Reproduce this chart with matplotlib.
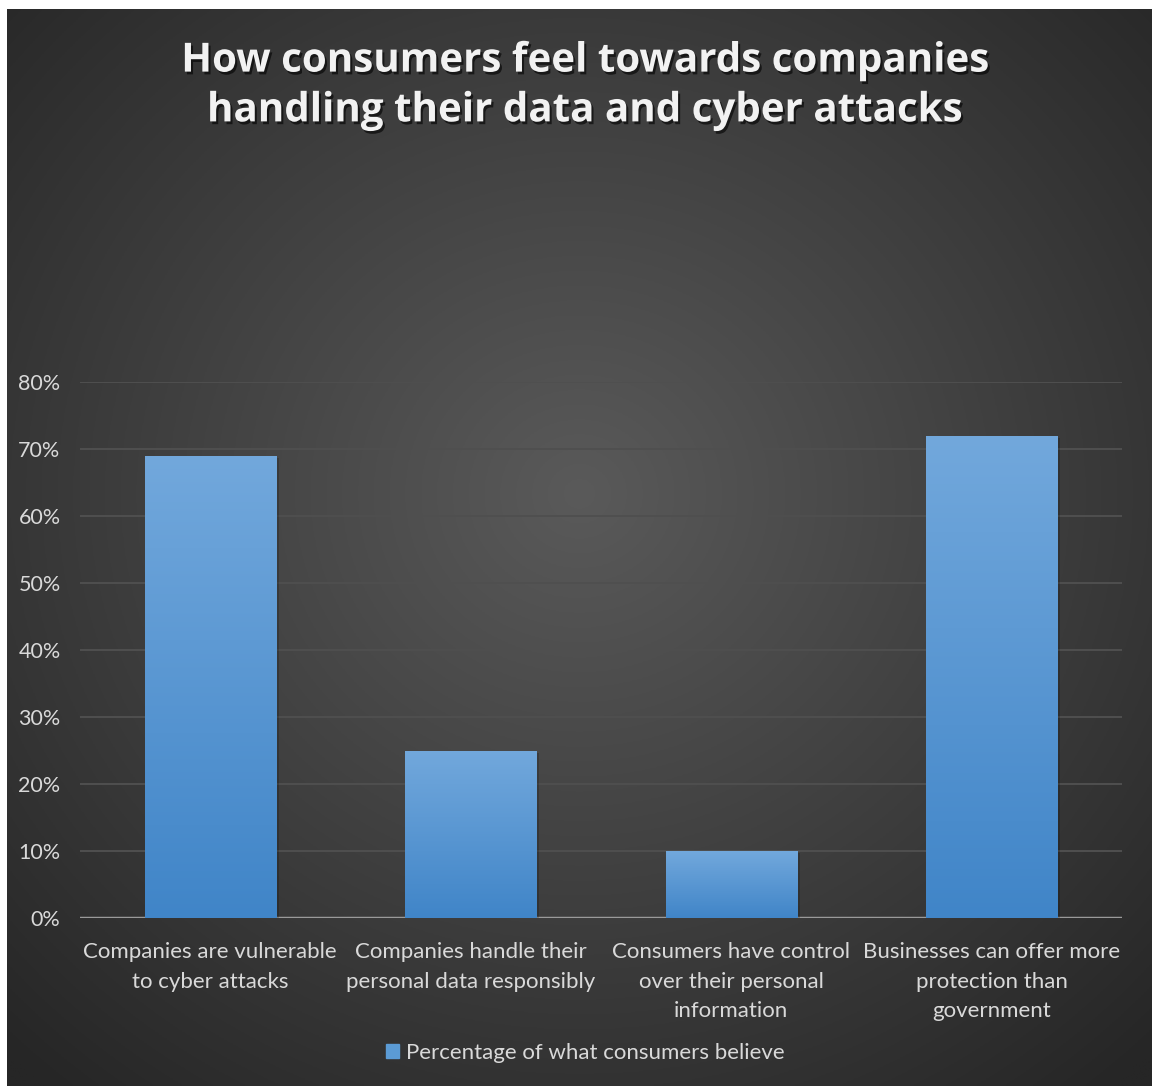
import numpy as np
import matplotlib
matplotlib.use('Agg')
import matplotlib.pyplot as plt
import matplotlib.patheffects as pe
from matplotlib.patches import Rectangle

categories = ['Companies are vulnerable\nto cyber attacks',
              'Companies handle their\npersonal data responsibly',
              'Consumers have control\nover their personal\ninformation',
              'Businesses can offer more\nprotection than\ngovernment']
values = [0.69, 0.25, 0.10, 0.72]
yticks = [0, 0.1, 0.2, 0.3, 0.4, 0.5, 0.6, 0.7, 0.8]
series_name = 'Percentage of what consumers believe'
title = 'How consumers feel towards companies\nhandling their data and cyber attacks'

W, H = 1152, 1086
fig = plt.figure(figsize=(W / 100, H / 100), dpi=100)
fig.patch.set_facecolor('white')

# dark radial background (leaves a thin white margin top/left)
bg = fig.add_axes([7 / W, 0, 1 - 7 / W, 1 - 9 / H])
bg.set_axis_off()
yy, xx = np.mgrid[0:1:400j, 0:1:400j]
r = np.sqrt((xx - 0.5) ** 2 + ((yy - 0.55) * 1.0) ** 2)
r = np.clip(r / 0.72, 0, 1)
c0 = np.array([0x5a, 0x5a, 0x5a]) / 255
c1 = np.array([0x26, 0x26, 0x26]) / 255
img = c0[None, None, :] * (1 - r[..., None]) + c1[None, None, :] * r[..., None]
bg.imshow(img, extent=[0, 1, 0, 1], aspect='auto', origin='lower')
bg.set_xlim(0, 1)
bg.set_ylim(0, 1)

font = 'Lato'
txtcol = '#d9d9d9'

ax = fig.add_axes([80 / W, 1 - 918 / H, (1122 - 80) / W, (918 - 382) / H])
ax.patch.set_alpha(0)
x = np.arange(len(values))
ax.set_xlim(-0.5, len(values) - 0.5)
ax.set_ylim(0, 0.8)
for s in ax.spines.values():
    s.set_visible(False)
ax.set_yticks(yticks)
ax.set_yticklabels(['%d%%' % round(v * 100) for v in yticks],
                   fontsize=15.5, color=txtcol, family=font)
ax.tick_params(axis='y', length=0, pad=14)
ax.set_xticks(x)
ax.set_xticklabels(categories, fontsize=16, color=txtcol, family=font,
                   linespacing=1.62)
ax.tick_params(axis='x', length=0, pad=17)
ax.grid(axis='y', color='#4f4f4f', linewidth=1.4, zorder=0)
ax.set_axisbelow(True)
ax.axhline(0, color='#9a9a9a', linewidth=2.5, zorder=1)

bars = ax.bar(x, values, width=0.503, color='#5b9bd5', zorder=2,
              label=series_name)
grad = np.linspace(0, 1, 256)[:, None]
top = np.array([0x72, 0xa8, 0xdc]) / 255
bot = np.array([0x40, 0x85, 0xc8]) / 255
gimg = bot[None, None, :] * (1 - grad[..., None]) + top[None, None, :] * grad[..., None]
for b in bars:
    bx, by, bw, bh = b.get_x(), b.get_y(), b.get_width(), b.get_height()
    sh = Rectangle((bx + 0.012, by), bw, bh - 0.003, color='black',
                   alpha=0.18, zorder=1.5, linewidth=0)
    ax.add_patch(sh)
    im = ax.imshow(gimg, extent=[bx, bx + bw, by, by + bh], aspect='auto',
                   origin='lower', zorder=2.5)
    im.set_clip_path(b)
ax.set_xlim(-0.5, len(values) - 0.5)
ax.set_ylim(0, 0.8)

leg = fig.legend(handles=[bars], labels=[series_name], loc='center',
                 bbox_to_anchor=(0.508, 1 - 1053 / H), frameon=False,
                 prop={'family': font, 'size': 16}, handlelength=0.6,
                 handleheight=0.6, handletextpad=0.3)
for t in leg.get_texts():
    t.set_color(txtcol)
leg.legend_handles[0].set_color('#5b9bd5')

fig.text(0.507, 1 - 86 / H, title, ha='center', va='center',
         fontsize=29, fontweight='bold', color='#f2f2f2', family='Open Sans',
         linespacing=1.36,
         path_effects=[pe.withSimplePatchShadow(offset=(1.5, -2), alpha=0.6,
                                                shadow_rgbFace='black')])

fig.savefig('out.png', dpi=100, facecolor=fig.get_facecolor())
